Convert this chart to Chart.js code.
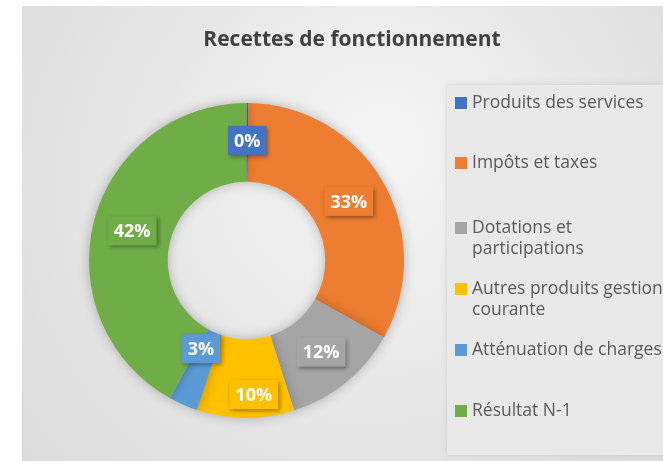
<!DOCTYPE html>
<html>
<head>
<meta charset="UTF-8">
<title>Recettes de fonctionnement</title>
<script src="https://cdn.jsdelivr.net/npm/chart.js@4.4.0/dist/chart.umd.min.js"></script>
<style>
  html, body { margin: 0; padding: 0; background: #fff; overflow: hidden; }
  #wrap { position: absolute; left: 22px; top: 6px; width: 660px; height: 455px; }
</style>
</head>
<body>
<div id="wrap"><canvas id="myChart" width="660" height="455"></canvas></div>

<script>
  // data (shares in %)
  let categories = ["Produits des services", "Impôts et taxes", "Dotations et participations",
                    "Autres produits gestion courante", "Atténuation de charges", "Résultat N-1"];
  let legendLines = [["Produits des services"], ["Impôts et taxes"], ["Dotations et", "participations"],
                     ["Autres produits gestion", "courante"], ["Atténuation de charges"], ["Résultat N-1"]];
  let shares = [0.2, 33, 12, 10, 3, 42];
  let colors = ["#4472C4", "#ED7D31", "#A5A5A5", "#FFC000", "#5B9BD5", "#70AD47"];
  let chartTitle = "Recettes de fonctionnement";

  let FONT = "'Open Sans', Lato, sans-serif";

  // background + legend panel, drawn under everything
  let backdrop = {
    id: "backdrop",
    beforeDraw(chart) {
      let ctx = chart.ctx, w = chart.width, h = chart.height;
      ctx.save();
      let g = ctx.createRadialGradient(w * 0.55, h * 0.3, 20, w * 0.5, h * 0.45, w * 0.7);
      g.addColorStop(0, "#f4f4f4");
      g.addColorStop(1, "#d9d9d9");
      ctx.fillStyle = g;
      ctx.fillRect(0, 0, w, h);
      // legend panel
      ctx.shadowColor = "rgba(0,0,0,0.12)";
      ctx.shadowBlur = 5;
      ctx.fillStyle = "#e9e9e9";
      ctx.fillRect(425, 79, 260, 370);
      ctx.restore();
      // title
      ctx.save();
      ctx.fillStyle = "#404040";
      ctx.font = "bold 21px " + FONT;
      ctx.textAlign = "center";
      ctx.textBaseline = "middle";
      ctx.fillText(chartTitle, 330, 34);
      ctx.restore();
    },
    beforeDatasetsDraw(chart) {
      chart.ctx.save();
      chart.ctx.shadowColor = "rgba(0,0,0,0.25)";
      chart.ctx.shadowBlur = 12;
    },
    afterDatasetsDraw(chart) {
      chart.ctx.restore();
    }
  };

  // boxed percentage labels at the middle of each arc
  let boxLabels = {
    id: "boxLabels",
    afterDraw(chart, args, opts) {
      let ctx = chart.ctx;
      let ds = chart.data.datasets[0];
      let total = ds.data.reduce((a, b) => a + b, 0);
      let meta = chart.getDatasetMeta(0);
      let nudge = opts.nudge || [];
      ctx.save();
      ctx.font = "bold 18px " + FONT;
      ctx.textAlign = "center";
      ctx.textBaseline = "middle";
      meta.data.forEach(function(arc, i) {
        let p = arc.tooltipPosition();
        let n = nudge[i] || [0, 0];
        let x = p.x + n[0], y = p.y + n[1];
        let txt = Math.round(ds.data[i] / total * 100) + "%";
        let tw = ctx.measureText(txt).width;
        let bw = tw + 12, bh = 29;
        ctx.save();
        ctx.shadowColor = "rgba(0,0,0,0.35)";
        ctx.shadowBlur = 4;
        ctx.shadowOffsetX = 2;
        ctx.shadowOffsetY = 2;
        ctx.fillStyle = ds.backgroundColor[i];
        ctx.fillRect(x - bw / 2, y - bh / 2, bw, bh);
        ctx.restore();
        ctx.fillStyle = "#ffffff";
        ctx.fillText(txt, x, y + 1);
      });
      ctx.restore();
    }
  };

  // legend on the right, Excel-like spacing
  let sideLegend = {
    id: "sideLegend",
    afterDraw(chart) {
      let ctx = chart.ctx;
      let ds = chart.data.datasets[0];
      let rows = [97, 157, 222, 283, 344, 405];
      ctx.save();
      ctx.font = "17.5px " + FONT;
      ctx.textBaseline = "middle";
      legendLines.forEach(function(lines, i) {
        ctx.fillStyle = ds.backgroundColor[i];
        ctx.fillRect(433, rows[i] - 6, 12, 12);
        ctx.fillStyle = "#595959";
        lines.forEach(function(t, k) {
          ctx.fillText(t, 450, rows[i] + k * 21);
        });
      });
      ctx.restore();
    }
  };

  new Chart("myChart", {
    type: "doughnut",
    data: {
      labels: categories,
      datasets: [{
        data: shares,
        backgroundColor: colors,
        borderWidth: 0
      }]
    },
    options: {
      responsive: false,
      animation: false,
      cutout: "50%",
      layout: { padding: { left: 67, right: 278, top: 97, bottom: 43 } },
      plugins: {
        legend: { display: false },
        tooltip: { enabled: false },
        boxLabels: { nudge: [[0, -2], [0, 0], [0, 0], [8, 16], [2, -20], [0, 0]] }
      }
    },
    plugins: [backdrop, boxLabels, sideLegend]
  });
</script>
</body>
</html>
